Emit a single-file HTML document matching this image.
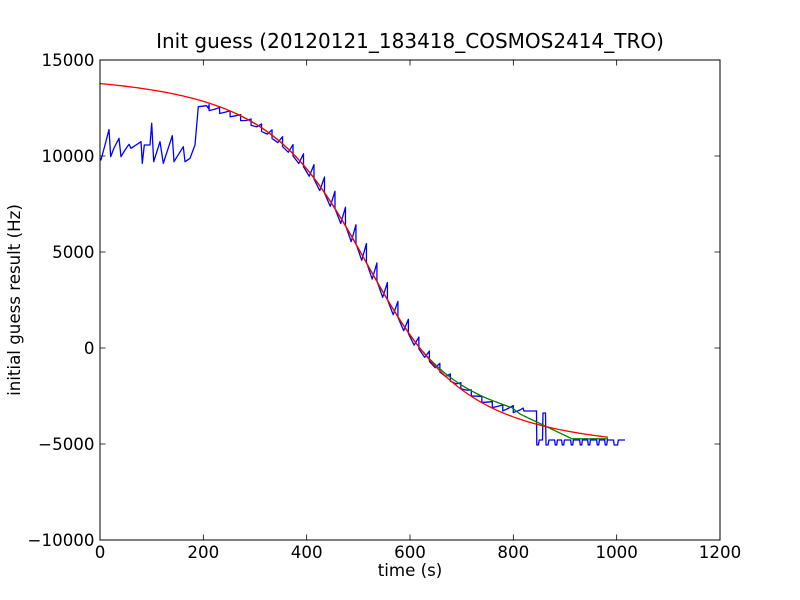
<!DOCTYPE html>
<html>
<head>
<meta charset="utf-8">
<style>
html,body{margin:0;padding:0;background:#fff;}
svg{display:block;}
</style>
</head>
<body>
<svg id="s" width="800" height="600" viewBox="0 0 800 600" xmlns="http://www.w3.org/2000/svg" font-family="'DejaVu Sans', 'Liberation Sans', sans-serif">
<rect width="800" height="600" fill="#fff"/>
<g fill="none" stroke-width="1.3" stroke-linejoin="round" stroke-linecap="butt">
<path id="blue" stroke="#0000ff" d=""/>
<path id="green" stroke="#008000" d=""/>
<path id="red" stroke="#ff0000" d=""/>
</g>
<rect x="100" y="60" width="620" height="480" fill="none" stroke="#000" stroke-width="1"/>
<path stroke="#000" stroke-width="0.8" fill="none" d="
M100 540v-5.5M203.33 540v-5.5M306.67 540v-5.5M410 540v-5.5M513.33 540v-5.5M616.67 540v-5.5M720 540v-5.5
M100 60v5.5M203.33 60v5.5M306.67 60v5.5M410 60v5.5M513.33 60v5.5M616.67 60v5.5M720 60v5.5
M100 60h5.5M100 156h5.5M100 252h5.5M100 348h5.5M100 444h5.5M100 540h5.5
M720 60h-5.5M720 156h-5.5M720 252h-5.5M720 348h-5.5M720 444h-5.5M720 540h-5.5"/>
<g font-size="16.67" fill="#000" text-anchor="middle">
<text x="100" y="558">0</text>
<text x="203.33" y="558">200</text>
<text x="306.67" y="558">400</text>
<text x="410" y="558">600</text>
<text x="513.33" y="558">800</text>
<text x="616.67" y="558">1000</text>
<text x="720" y="558">1200</text>
</g>
<g font-size="16.67" fill="#000" text-anchor="end">
<text x="94.5" y="66">15000</text>
<text x="94.5" y="162">10000</text>
<text x="94.5" y="258">5000</text>
<text x="94.5" y="354">0</text>
<text x="94.5" y="450">−5000</text>
<text x="94.5" y="546">−10000</text>
</g>
<text x="410" y="48" font-size="20" text-anchor="middle" fill="#000">Init guess (20120121_183418_COSMOS2414_TRO)</text>
<text x="410" y="576" font-size="16.67" text-anchor="middle" fill="#000">time (s)</text>
<text transform="translate(20,300) rotate(-90)" font-size="16.67" text-anchor="middle" fill="#000">initial guess result (Hz)</text>
</svg>
<script>
(function(){
const X=t=>100+t*620/1200, TT=x=>(x-100)*1200/620;
const Y=v=>348-v*0.0192;
const red=t=>{const u=t-514.4;return 4500-10000*u/Math.sqrt(43056.25+u*u);};
const redPx=x=>Y(red(TT(x)));
const bump=[[420,0],[445,2.5],[470,5.4],[500,8.3],[512,8.7],[520,5.3]];
function lerp(p,x){for(let i=0;i<p.length-1;i++){const a=p[i],b=p[i+1];if(x<=b[0])return a[1]+(b[1]-a[1])*(x-a[0])/(b[0]-a[0]);}return p[p.length-1][1];}
function greenPx(x){
  if(x<=420) return redPx(x);
  if(x<=520) return redPx(x)-lerp(bump,x);
  if(x<=572) return 414+(x-520)*(438.8-414)/52;
  return 438.8;
}
function toD(pts){return pts.map((p,i)=>(i?'L':'M')+p[0].toFixed(2)+' '+p[1].toFixed(2)).join('');}
let rp=[];for(let t=0;t<=983.2;t+=2){rp.push([X(t),Y(red(t))]);}
rp.push([X(983.2),Y(red(983.2))]);
document.getElementById('red').setAttribute('d',toD(rp));
let gp=[];for(let x=235;x<=608;x+=1){gp.push([x,greenPx(x)]);}
document.getElementById('green').setAttribute('d',toD(gp));
let pts=[[100,158],[101,160],[105,145],[109,129.5],[110.7,156.7],[114,148],[119,138.3],[121,156.7],[125,150],[129,144.3],[131,148.3],[141,141.7],[142.3,163.3],[144.3,145],[150,145],[151.7,123.3],[153.7,161.7],[160,141.7],[163.3,163.3],[172.3,135.7],[174,161.7],[183.3,146.7],[185,161.7],[190,158.3],[195,145],[198.3,106.7],[206.7,105.7],[208.3,108.3]];
const xs=[],cs=[];
for(let k=-12;k<=18;k++){const x=X(454.8+20.3*k);xs.push(x);cs.push(greenPx(x));}
const Ts=[],Bs=[];
for(let i=0;i<xs.length-1;i++){const D=cs[i+1]-cs[i];const V=Math.max(1.0*D,6);Ts[i]=cs[i]+6.5-1.38*D;Bs[i]=Ts[i]+V;}
for(let i=0;i<xs.length-1;i++){
  pts.push([xs[i],Ts[i]],[xs[i],Bs[i]]);
  if(i<xs.length-2){
    const D=cs[i+1]-cs[i];
    const mx=xs[i]+0.55*(xs[i+1]-xs[i]);
    const M=Math.max(greenPx(mx)+0.32*D,(Bs[i]+Ts[i+1])/2);
    pts.push([mx,M]);
  }
}
pts.push([520,410],[523,408],[524,411],[536.5,411],[536.8,445],[538.3,445],[539.3,440],[542.5,440],[543,413],[545.5,413],[546,445],[548,445],[549,440]);
[556,563,572,581,589,598,606].forEach(d=>{pts.push([d-1.4,440],[d-0.7,445],[d+0.7,445],[d+1.4,440]);});
pts.push([613.5,440],[614.2,445],[617.6,445],[618.3,440],[625,440]);
document.getElementById('blue').setAttribute('d',toD(pts));
})();
</script>
</body>
</html>
